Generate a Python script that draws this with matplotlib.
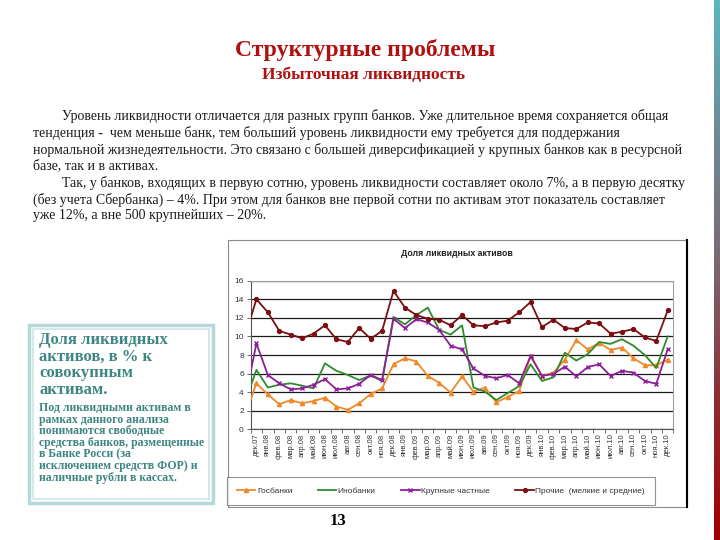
import matplotlib
matplotlib.use("Agg")
import matplotlib.pyplot as plt
import numpy as np
from matplotlib.patches import Rectangle
from matplotlib.lines import Line2D
from matplotlib.colors import LinearSegmentedColormap

W, H = 720, 540

months = ['дек.07', 'янв.08', 'фев.08', 'мар.08', 'апр.08', 'май.08', 'июн.08', 'июл.08',
          'авг.08', 'сен.08', 'окт.08', 'ноя.08', 'дек.08', 'янв.09', 'фев.09', 'мар.09',
          'апр.09', 'май.09', 'июн.09', 'июл.09', 'авг.09', 'сен.09', 'окт.09', 'ноя.09',
          'дек.09', 'янв.10', 'фев.10', 'мар.10', 'апр.10', 'май.10', 'июн.10', 'июл.10',
          'авг.10', 'сен.10', 'окт.10', 'ноя.10', 'дек.10']

# first value of every series is ноя.07 - only half of that segment is inside the plot
gosbanki = [1.45, 4.95, 3.75, 2.7, 3.15, 2.8, 3.05, 3.4, 2.45, 2.1, 2.8, 3.8, 4.4,
            7.0, 7.65, 7.3, 5.75, 5.0, 3.95, 5.7, 4.05, 4.5, 2.9, 3.5, 4.1,
            7.9, 5.75, 6.1, 7.5, 9.6, 8.6, 9.3, 8.55, 8.8, 7.65, 6.9, 6.9, 7.5]
inobanki = [2.9, 6.4, 4.5, 4.8, 4.95, 4.7, 4.4, 7.1, 6.3, 5.85, 5.3, 5.8, 5.2,
            12.1, 11.3, 12.3, 13.1, 10.7, 10.2, 11.2, 4.5, 4.05, 3.15, 3.9, 4.65,
            7.0, 5.2, 5.6, 8.25, 7.4, 8.1, 9.4, 9.2, 9.7, 9.0, 8.0, 6.6, 10.0]
krupnye = [3.15, 9.25, 5.85, 4.95, 4.3, 4.4, 4.8, 5.4, 4.3, 4.4, 4.9, 5.85, 5.3,
           11.9, 10.9, 11.85, 11.5, 10.7, 9.0, 8.6, 6.55, 5.75, 5.5, 5.85, 4.95,
           7.9, 5.75, 5.95, 6.75, 5.7, 6.7, 7.0, 5.75, 6.3, 6.1, 5.2, 4.9, 8.6]
prochie = [10.0, 14.0, 12.6, 10.6, 10.2, 9.8, 10.3, 11.2, 9.7, 9.4, 10.9, 9.75, 10.6,
           14.9, 13.1, 12.3, 11.9, 11.8, 11.2, 12.3, 11.2, 11.1, 11.5, 11.7, 12.6,
           13.7, 11.0, 11.8, 10.9, 10.8, 11.5, 11.4, 10.3, 10.5, 10.8, 9.9, 9.5, 12.8]

series_names = ['Госбанки', 'Инобанки', 'Крупные частные', 'Прочие  (мелкие и средние)']

title = 'Структурные проблемы'
subtitle = 'Избыточная ликвидность'
chart_title = 'Доля ликвидных активов'
body = [
    (True, 'Уровень ликвидности отличается для разных групп банков. Уже длительное время сохраняется общая'),
    (False, 'тенденция -  чем меньше банк, тем больший уровень ликвидности ему требуется для поддержания'),
    (False, 'нормальной жизнедеятельности. Это связано с большей диверсификацией у крупных банков как в ресурсной'),
    (False, 'базе, так и в активах.'),
    (True, 'Так, у банков, входящих в первую сотню, уровень ликвидности составляет около 7%, а в первую десятку'),
    (False, '(без учета Сбербанка) – 4%. При этом для банков вне первой сотни по активам этот показатель составляет'),
    (False, 'уже 12%, а вне 500 крупнейших – 20%.'),
]
box_head = ['Доля ликвидных', 'активов, в % к', 'совокупным', 'активам.']
box_note = ['Под ликвидными активам в', 'рамках данного анализа', 'понимаются свободные',
            'средства банков, размещенные', 'в Банке Росси (за',
            'исключением средств ФОР) и', 'наличные рубли в кассах.']
page_no = '13'


def fx(x):
    return x / W


def fy(y):
    return 1 - y / H


serif = 'Liberation Serif'
sans = 'Liberation Sans'
red_title = '#B01010'
teal = '#3E8683'

fig = plt.figure(figsize=(7.2, 5.4), dpi=100)
fig.patch.set_facecolor('white')

# slide titles
fig.text(fx(365), fy(50), title, ha='center', va='center', family=serif,
         fontsize=17, fontweight='bold', color=red_title)
fig.text(fx(364), fy(75), subtitle, ha='center', va='center', family=serif,
         fontsize=12.5, fontweight='bold', color=red_title)

# body text
body_y = [116, 133, 150, 166, 183, 200, 216]
for (indent, line), y in zip(body, body_y):
    fig.text(fx(62 if indent else 33), fy(y), line, ha='left', va='center',
             family=serif, fontsize=10, color='#1a1a1a')

# left info box
fig.patches.append(Rectangle((fx(29), fy(503)), fx(184), 178 / H, transform=fig.transFigure,
                             facecolor='white', edgecolor='#B5D8DA', lw=2.5, zorder=-5))
fig.patches.append(Rectangle((fx(33), fy(499)), fx(176), 170 / H, transform=fig.transFigure,
                             facecolor='none', edgecolor='#CDE5E6', lw=1.2, zorder=-5))
for line, y in zip(box_head, [340, 357, 373, 390]):
    fig.text(fx(39), fy(y), line, ha='left', va='center', family=serif,
             fontsize=12, fontweight='bold', color=teal)
for i, line in enumerate(box_note):
    fig.text(fx(39), fy(408 + 11.6 * i), line, ha='left', va='center', family=serif,
             fontsize=8.5, fontweight='bold', color=teal)

# chart frame
fig.patches.append(Rectangle((fx(228), fy(507)), fx(459), 267 / H, transform=fig.transFigure,
                             facecolor='white', edgecolor='#8c8c8c', lw=0.8, zorder=-5))
fig.add_artist(Line2D([fx(687), fx(687)], [fy(240), fy(507)], transform=fig.transFigure,
                      color='black', lw=1.5))
fig.text(fx(457), fy(253), chart_title, ha='center', va='center', family=sans,
         fontsize=6.3, fontweight='bold', color='#222222')

ax = fig.add_axes([fx(250.7), fy(429.3), 422.7 / W, 148.6 / H])
ax.set_facecolor('white')
x = np.arange(-1, len(months))
styles = [
    (gosbanki, '#F0892A', '^', 3),
    (inobanki, '#2E8B2E', None, 0),
    (krupnye, '#8E1F9A', 'x', 3),
    (prochie, '#7A0F12', 'o', 2.8),
]
handles = []
for (vals, col, mk, ms), name in zip(styles, series_names):
    h, = ax.plot(x, vals, color=col, lw=1.3, marker=mk, ms=ms, mew=1, label=name, zorder=3)
    handles.append(h)

ax.set_xlim(-0.5, len(months) - 0.5)
ax.set_ylim(0, 16)
ax.set_yticks(np.arange(0, 17, 2))
ax.set_xticks(np.arange(len(months)))
ax.set_xticklabels(months, rotation=90, family=sans, fontsize=5.5, color='#333333')
ax.set_xticks(np.arange(-0.5, len(months), 1), minor=True)
ax.tick_params(axis='x', which='major', length=0, pad=3)
ax.tick_params(axis='x', which='minor', length=3, color='#555555', width=0.6)
ax.tick_params(axis='y', length=3, color='#555555', width=0.6, labelsize=6, pad=2)
for lab in ax.get_yticklabels():
    lab.set_family(sans)
    lab.set_color('#333333')
ax.grid(axis='y', color='#1a1a1a', lw=0.9)
ax.set_axisbelow(True)
for s in ['top', 'right']:
    ax.spines[s].set_color('#a0a0a0')
    ax.spines[s].set_linewidth(0.8)
for s in ['left', 'bottom']:
    ax.spines[s].set_color('#555555')
    ax.spines[s].set_linewidth(0.8)

leg = fig.legend(handles=handles, loc='lower left',
                 bbox_to_anchor=(fx(227), fy(505), 428 / W, 30 / H), mode='expand',
                 ncol=4, frameon=True, fancybox=False, edgecolor='#777777',
                 prop={'family': sans, 'size': 6}, handlelength=2.2, handletextpad=0.2,
                 borderpad=1.2, borderaxespad=0)
leg.get_frame().set_linewidth(0.8)
for t in leg.get_texts():
    t.set_color('#333333')

fig.text(fx(338), fy(521), page_no, ha='center', va='center', family=serif,
         fontsize=12, fontweight='bold', color='black')

# gradient strip on the right edge
bar = fig.add_axes([fx(714), 0, 6 / W, 1])
cmap = LinearSegmentedColormap.from_list('edge', ['#5BB6C0', '#6E8A94', '#7B6670', '#8E2A30', '#A00000'])
bar.imshow(np.linspace(0, 1, 256).reshape(-1, 1), aspect='auto', cmap=cmap)
bar.axis('off')

fig.savefig('out.png', dpi=100)
